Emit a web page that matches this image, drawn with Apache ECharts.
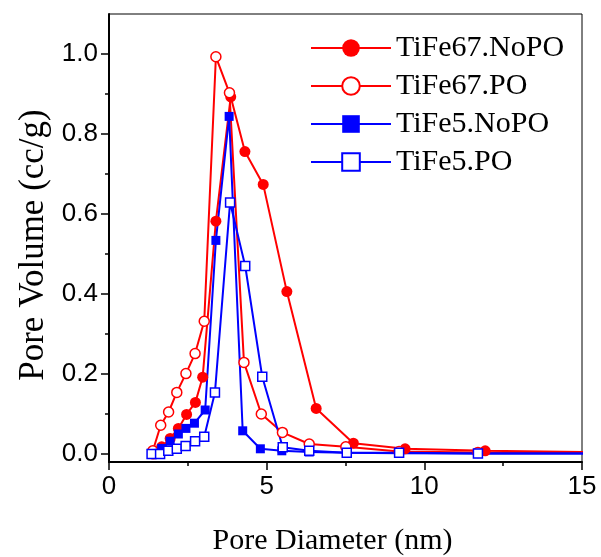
<!DOCTYPE html>
<html>
<head>
<meta charset="utf-8">
<script src="https://cdn.jsdelivr.net/npm/echarts@6/dist/echarts.min.js"></script>
<style>
html,body{margin:0;padding:0;background:#fff;}
#chart{width:601px;height:557px;}
</style>
</head>
<body>
<div id="chart"></div>
<script>
// ---- data ----
const seriesNames = ['TiFe67.NoPO', 'TiFe67.PO', 'TiFe5.NoPO', 'TiFe5.PO'];

const tife67NoPO_x = [1.40, 1.67, 1.94, 2.20, 2.46, 2.74, 2.97, 3.39, 3.86, 4.31, 4.89, 5.64, 6.57, 7.75, 9.39, 11.93, 16.0];
const tife67NoPO_y = [0.000, 0.018, 0.039, 0.064, 0.099, 0.129, 0.192, 0.582, 0.893, 0.756, 0.674, 0.406, 0.114, 0.027, 0.013, 0.008, 0.004];

const tife67PO_x = [1.39, 1.64, 1.89, 2.15, 2.44, 2.73, 3.02, 3.39, 3.82, 4.28, 4.83, 5.50, 6.35, 7.51, 9.20, 11.70, 16.0];
const tife67PO_y = [0.008, 0.072, 0.105, 0.154, 0.201, 0.251, 0.332, 0.993, 0.903, 0.229, 0.100, 0.054, 0.025, 0.018, 0.006, 0.004, 0.003];

const tife5NoPO_x = [1.40, 1.67, 1.94, 2.20, 2.44, 2.71, 3.05, 3.39, 3.81, 4.24, 4.80, 5.48, 6.35, 7.54, 9.20, 11.70, 16.0];
const tife5NoPO_y = [0.000, 0.014, 0.032, 0.050, 0.064, 0.077, 0.110, 0.534, 0.844, 0.058, 0.013, 0.008, 0.005, 0.003, 0.002, 0.001, 0.001];

const tife5PO_x = [1.35, 1.62, 1.88, 2.15, 2.43, 2.73, 3.02, 3.36, 3.84, 4.32, 4.86, 5.51, 6.35, 7.54, 9.20, 11.70, 16.0];
const tife5PO_y = [0.000, 0.000, 0.008, 0.013, 0.020, 0.032, 0.043, 0.154, 0.629, 0.470, 0.193, 0.017, 0.008, 0.003, 0.003, 0.001, 0.001];

const yMajorTicks = [0.0, 0.2, 0.4, 0.6, 0.8, 1.0];
const yMinorTicks = [0.1, 0.3, 0.5, 0.7, 0.9];

const xTitle = 'Pore Diameter (nm)';
const yTitle = 'Pore Volume (cc/g)';

// ---- chart ----
function pairs(xs, ys) { return xs.map((x, i) => [x, ys[i]]); }

const RED = '#ff0000', BLUE = '#0000ff';
const serif = 'Liberation Serif, Times New Roman, serif';
const sans = 'Liberation Sans, Arial, sans-serif';

function mkSeries(name, xs, ys, color, symbol, size, filled) {
  return {
    name: name,
    type: 'line',
    data: pairs(xs, ys),
    symbol: symbol,
    symbolSize: size,
    showAllSymbol: true,
    clip: true,
    lineStyle: { color: color, width: 2 },
    itemStyle: filled ? { color: color, borderColor: color, borderWidth: 0 }
                      : { color: '#ffffff', borderColor: color, borderWidth: 1.5 },
    emphasis: { disabled: true },
    animation: false
  };
}

const chart = echarts.init(document.getElementById('chart'), null, { renderer: 'canvas' });
chart.setOption({
  animation: false,
  backgroundColor: '#ffffff',
  grid: { left: 109, right: 19, top: 14, bottom: 95, containLabel: false, outerBoundsMode: 'none', show: true, borderColor: '#000', borderWidth: 1, backgroundColor: 'transparent' },
  legend: {
    data: seriesNames.map(n => ({ name: n })),
    orient: 'vertical',
    left: 310,
    top: 33,
    padding: 0,
    itemWidth: 80,
    itemHeight: 22,
    itemGap: 8,
    textStyle: { fontFamily: serif, fontSize: 30, color: '#000', lineHeight: 30 },
    selectedMode: false
  },
  xAxis: {
    type: 'value',
    min: 0, max: 15, interval: 5,
    name: xTitle,
    nameLocation: 'middle',
    nameGap: 64,
    nameTextStyle: { fontFamily: serif, fontSize: 30, color: '#000', padding: [0, 26, 0, 0] },
    axisLine: { onZero: false, lineStyle: { color: '#000', width: 2 } },
    axisTick: { show: true, inside: false, length: 8, lineStyle: { color: '#000', width: 1.5 } },
    minorTick: { show: true, splitNumber: 2, length: 4, lineStyle: { color: '#000', width: 1.5 } },
    axisLabel: { fontFamily: sans, fontSize: 26, color: '#000', margin: 12 },
    splitLine: { show: false }
  },
  yAxis: [{
    type: 'value',
    min: -0.02, max: 1.1,
    name: yTitle,
    nameLocation: 'middle',
    nameGap: 58,
    nameRotate: 90,
    nameTextStyle: { fontFamily: serif, fontSize: 35, color: '#000', padding: [0, 14, 0, 0] },
    axisLine: { onZero: false, lineStyle: { color: '#000', width: 2 } },
    axisTick: { show: true, inside: false, length: 8, customValues: yMajorTicks, lineStyle: { color: '#000', width: 1.5 } },
    axisLabel: { fontFamily: sans, fontSize: 26, color: '#000', margin: 11, customValues: yMajorTicks, formatter: v => v.toFixed(1) },
    splitLine: { show: false }
  }, {
    type: 'value',
    position: 'left',
    min: -0.02, max: 1.1,
    axisLine: { show: false },
    axisTick: { show: true, inside: false, length: 4, customValues: yMinorTicks, lineStyle: { color: '#000', width: 1.5 } },
    axisLabel: { show: false },
    splitLine: { show: false }
  }],
  series: [
    mkSeries(seriesNames[0], tife67NoPO_x, tife67NoPO_y, RED, 'circle', 11, true),
    mkSeries(seriesNames[1], tife67PO_x, tife67PO_y, RED, 'circle', 10, false),
    mkSeries(seriesNames[2], tife5NoPO_x, tife5NoPO_y, BLUE, 'rect', 9, true),
    mkSeries(seriesNames[3], tife5PO_x, tife5PO_y, BLUE, 'rect', 9, false)
  ]
});
</script>
</body>
</html>
